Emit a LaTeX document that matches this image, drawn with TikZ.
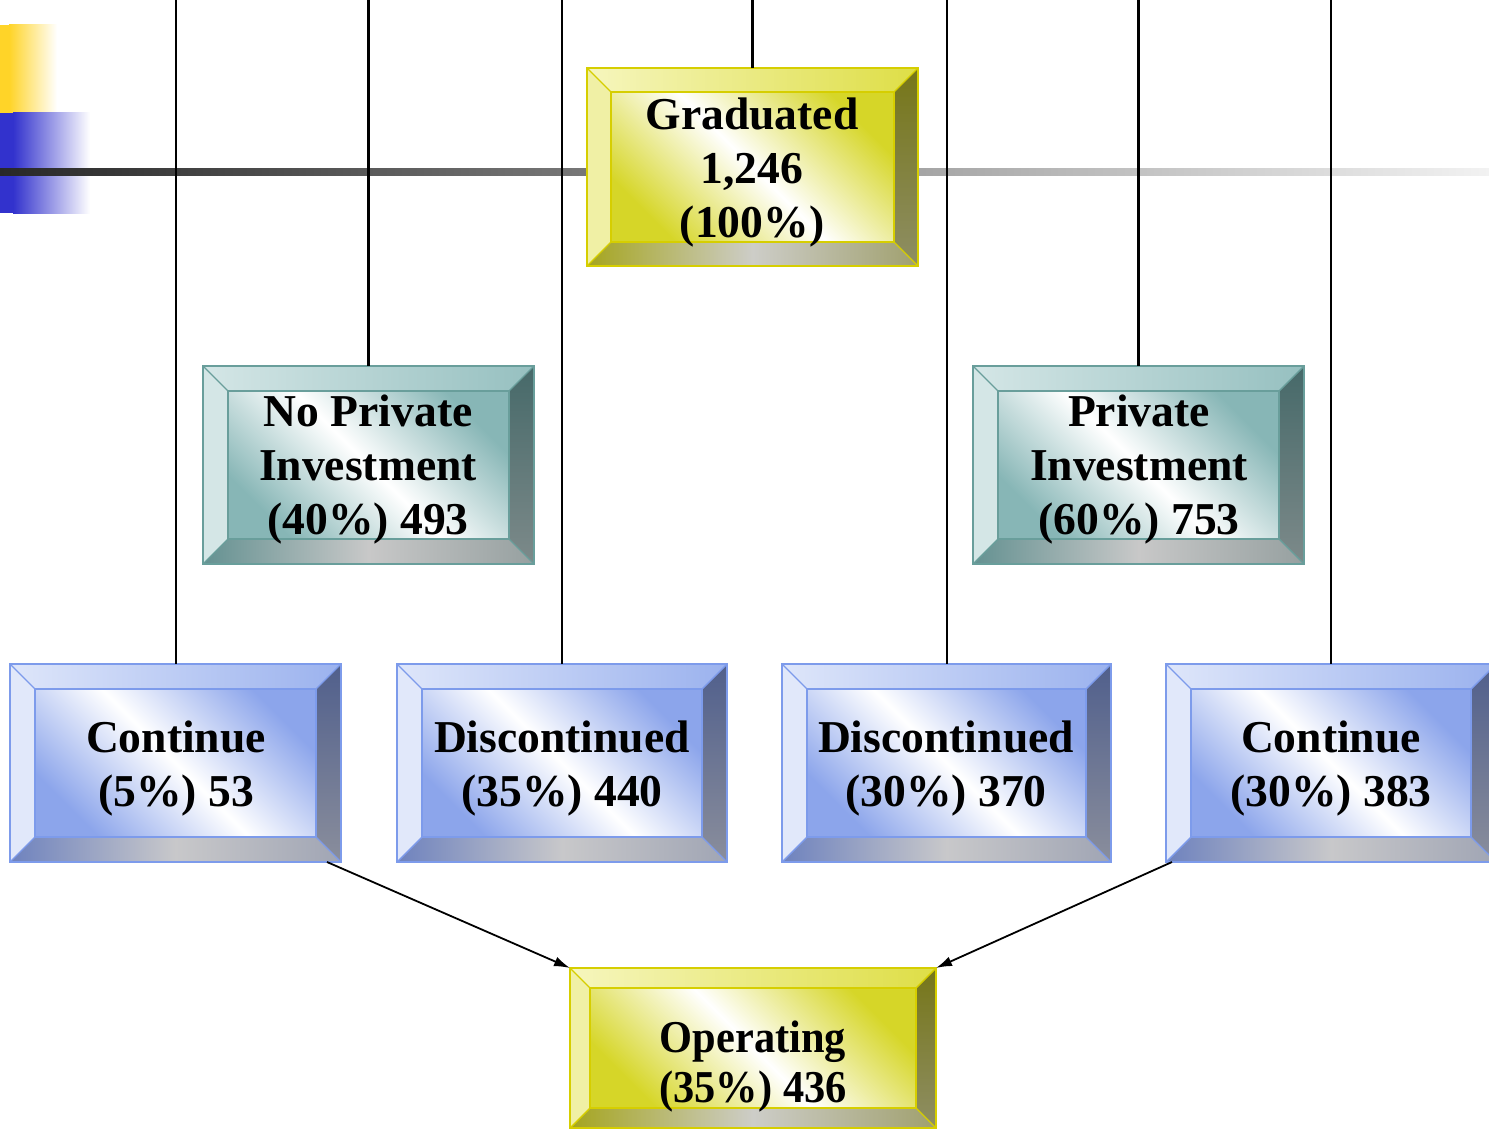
\documentclass[tikz,border=0pt]{standalone}
\usepackage{fontspec}
\setmainfont{Liberation Serif}
\newfontfamily\condserif{Liberation Serif}[FakeStretch=0.93]
\usetikzlibrary{arrows.meta,fit,calc}

% yellow scheme
\definecolor{Yface}{RGB}{214,214,40}
\definecolor{Ybd}{RGB}{214,206,0}
\definecolor{Ytop1}{RGB}{246,246,190}
\definecolor{Ytop2}{RGB}{222,222,70}
\definecolor{Yleft}{RGB}{240,240,165}
\definecolor{Yright1}{RGB}{118,118,24}
\definecolor{Yright2}{RGB}{142,142,100}
\definecolor{Ybot1}{RGB}{165,165,30}
\definecolor{Ybot2}{RGB}{205,205,200}
\definecolor{Ybot3}{RGB}{160,160,110}
% teal scheme
\definecolor{Tface}{RGB}{135,182,182}
\definecolor{Tbd}{RGB}{105,158,155}
\definecolor{Ttop1}{RGB}{212,230,230}
\definecolor{Ttop2}{RGB}{150,192,192}
\definecolor{Tleft}{RGB}{212,230,230}
\definecolor{Tright1}{RGB}{70,105,105}
\definecolor{Tright2}{RGB}{125,138,138}
\definecolor{Tbot1}{RGB}{100,145,145}
\definecolor{Tbot2}{RGB}{200,200,200}
\definecolor{Tbot3}{RGB}{150,160,160}
% blue scheme
\definecolor{Bface}{RGB}{140,165,235}
\definecolor{Bbd}{RGB}{125,155,235}
\definecolor{Btop1}{RGB}{222,230,250}
\definecolor{Btop2}{RGB}{155,178,238}
\definecolor{Bleft}{RGB}{225,232,250}
\definecolor{Bright1}{RGB}{80,95,140}
\definecolor{Bright2}{RGB}{138,142,156}
\definecolor{Bbot1}{RGB}{110,130,190}
\definecolor{Bbot2}{RGB}{200,200,202}
\definecolor{Bbot3}{RGB}{160,165,180}
% decoration
\definecolor{decoY}{RGB}{255,212,40}
\definecolor{decoB}{RGB}{50,50,205}
\definecolor{barL}{RGB}{40,40,40}
\definecolor{barR}{RGB}{242,242,242}

% name, x1, y1, x2, y2, bevel, scheme
\newcommand{\bevelbox}[7]{%
  \coordinate (#1-nw) at (#2,#3);
  \coordinate (#1-se) at (#4,#5);
  \node[fit=(#1-nw)(#1-se), inner sep=0pt, outer sep=0pt] (#1) {};
  \shade[top color=#7face, bottom color=#7face, middle color=white, shading angle=-45]
    ({#2+#6},{#3+#6}) rectangle ({#4-#6},{#5-#6});
  \shade[left color=#7top1, right color=#7top2]
    (#2,#3) -- (#4,#3) -- ({#4-#6},{#3+#6}) -- ({#2+#6},{#3+#6}) -- cycle;
  \fill[#7left]
    (#2,#3) -- ({#2+#6},{#3+#6}) -- ({#2+#6},{#5-#6}) -- (#2,#5) -- cycle;
  \shade[top color=#7right1, bottom color=#7right2]
    (#4,#3) -- (#4,#5) -- ({#4-#6},{#5-#6}) -- ({#4-#6},{#3+#6}) -- cycle;
  \shade[left color=#7bot1, right color=#7bot3, middle color=#7bot2]
    (#2,#5) -- (#4,#5) -- ({#4-#6},{#5-#6}) -- ({#2+#6},{#5-#6}) -- cycle;
  \draw[#7bd, line width=1.1pt] (#2,#3) rectangle (#4,#5);
  \draw[#7bd, line width=0.9pt] ({#2+#6},{#3+#6}) rectangle ({#4-#6},{#5-#6});
  \draw[#7bd, line width=0.7pt] (#2,#3) -- ({#2+#6},{#3+#6})
    (#4,#3) -- ({#4-#6},{#3+#6}) (#2,#5) -- ({#2+#6},{#5-#6}) (#4,#5) -- ({#4-#6},{#5-#6});
}

\tikzset{
  boxtext/.style={align=center, inner sep=0pt, text=black,
    font=\bfseries\fontsize{22.8}{27}\selectfont},
  vline/.style={draw=black, line width=1pt},
  vlinethick/.style={draw=black, line width=1.4pt},
  arr/.style={draw=black, line width=0.9pt, -{Latex[length=8pt,width=5pt]}}
}

\begin{document}
\begin{tikzpicture}[x=0.5pt,y=-0.5pt]
\useasboundingbox (0,0) rectangle (1489,1129);
\clip (0,0) rectangle (1489,1129);

% corner decoration
\fill[decoY] (0,25) rectangle (9,113);
\shade[left color=decoY, right color=white] (9,25) rectangle (57,113);
\fill[decoB] (0,113) rectangle (13,213);
\shade[left color=decoB, right color=white] (13,113) rectangle (90,213);
% horizontal bar
\shade[left color=barL, right color=barR] (0,169) rectangle (1489,176);

% boxes
\bevelbox{grad}{587}{68}{918}{266}{24}{Y}
\bevelbox{npi}{203}{366}{534}{564}{25}{T}
\bevelbox{pi}{973}{366}{1304}{564}{25}{T}
\bevelbox{cl}{10}{664}{341}{862}{25}{B}
\bevelbox{dl}{397}{664}{727}{862}{25}{B}
\bevelbox{dr}{782}{664}{1111}{862}{25}{B}
\bevelbox{cr}{1166}{664}{1496}{862}{25}{B}
\bevelbox{op}{570}{968}{936}{1128}{20}{Y}

% texts
\node[boxtext] (gradT) at (752,173) {Graduated\\1,246\\(100\%)};
\node[boxtext] (npiT) at (368,470) {No Private\\Investment\\(40\%) 493};
\node[boxtext] (piT) at (1139,470) {Private\\Investment\\(60\%) 753};
\node[boxtext] (clT) at (176,769) {Continue\\(5\%) 53};
\node[boxtext] (dlT) at (562,769) {Discontinued\\(35\%) 440};
\node[boxtext] (drT) at (946,769) {Discontinued\\(30\%) 370};
\node[boxtext] (crT) at (1331,769) {Continue\\(30\%) 383};
\node[boxtext, font=\condserif\bfseries\fontsize{22.8}{25}\selectfont] (opT) at (753,1067) {Operating\\(35\%) 436};

% vertical lines from the top edge
\coordinate (t1) at (cl.north |- 0,0);
\coordinate (t2) at (npi.north |- 0,0);
\coordinate (t3) at (dl.north |- 0,0);
\coordinate (t4) at (grad.north |- 0,0);
\coordinate (t5) at (dr.north |- 0,0);
\coordinate (t6) at (pi.north |- 0,0);
\coordinate (t7) at (cr.north |- 0,0);
\draw[vline] (t1) -- (cl.north);
\draw[vlinethick] (t2) -- (npi.north);
\draw[vline] (t3) -- (dl.north);
\draw[vlinethick] (t4) -- (grad.north);
\draw[vline] (t5) -- (dr.north);
\draw[vlinethick] (t6) -- (pi.north);
\draw[vline] (t7) -- (cr.north);

% arrows to Operating
\draw[arr] ($(cl.south east)+(-14,0)$) -- (op.north west);
\draw[arr] ($(cr.south west)+(6,0)$) -- (op.north east);
\end{tikzpicture}
\end{document}
